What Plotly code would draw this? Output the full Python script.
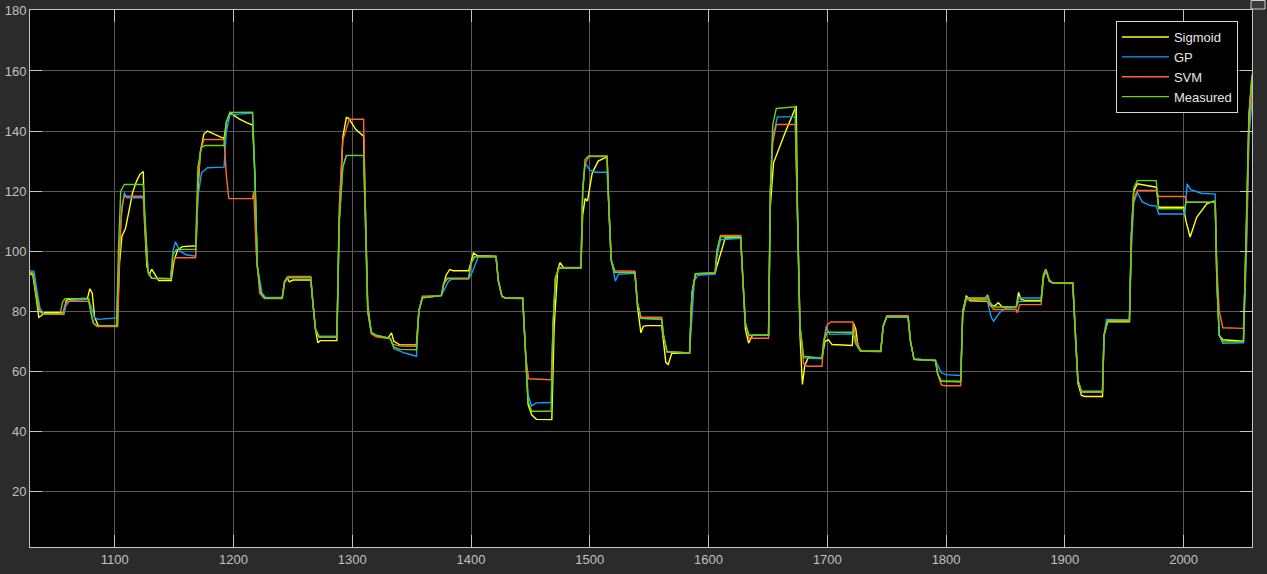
import plotly.graph_objects as go

# ---------------- data ----------------
measured_t = [1028.6, 1031, 1034, 1036, 1040, 1054, 1056, 1058, 1078, 1080, 1082, 1085, 1101.5, 1103, 1105, 1108,
              1124, 1126, 1128, 1131, 1147, 1149, 1152, 1168, 1170, 1173, 1176, 1192, 1194, 1197, 1216, 1218,
              1220, 1223, 1226, 1241, 1243, 1246, 1265, 1267, 1269, 1272, 1287, 1289, 1292, 1295, 1309.5, 1311,
              1313, 1316, 1320, 1332, 1335, 1340, 1354, 1356, 1359, 1375, 1377, 1380, 1398, 1400, 1403, 1421,
              1423, 1426, 1429, 1443.5, 1446, 1448, 1451, 1467.5, 1469, 1471, 1474, 1492.5, 1494, 1496, 1499,
              1514.5, 1516, 1518, 1521, 1538, 1540, 1543, 1560.5, 1562, 1565, 1584, 1586, 1589, 1605.5, 1607,
              1610, 1627, 1629, 1631, 1634, 1650.5, 1652, 1654, 1657, 1673, 1675, 1677, 1680, 1695.5, 1697, 1700,
              1721.5, 1724, 1728, 1745, 1747, 1750, 1768, 1770, 1773, 1791, 1793, 1796, 1812.3, 1814, 1817, 1833,
              1835, 1837, 1840, 1859, 1861, 1880, 1882, 1884, 1887, 1890, 1906.7, 1909, 1911, 1914, 1931.7, 1933,
              1936, 1954.4, 1956, 1958, 1961, 1977, 1979, 2001, 2002, 2026.6, 2028, 2030, 2033, 2050.4, 2053, 2055,
              2057.6]
measured_v = [93, 92.5, 85, 80, 79.2, 79.2, 83, 84.2, 84.2, 79, 76, 75.3, 75.2, 100, 120, 122.2,
              122.2, 105, 93, 91, 90.8, 99, 100.6, 100.6, 128, 134.5, 135.2, 135.2, 143, 146.2, 146.3, 125,
              95, 86, 84.4, 84.4, 89.5, 91.1, 91.1, 82, 74, 71.5, 71.4, 110, 128, 131.9, 131.9, 110,
              80, 73, 72, 71, 68, 67.3, 67.2, 80, 84.5, 85.2, 89.5, 91, 91.1, 96, 98.1, 98.1,
              90, 85, 84.4, 84.4, 65, 50, 46.7, 46.7, 75, 91, 94.4, 94.4, 120, 130.5, 131.7,
              131.7, 115, 97, 93, 92.8, 83, 77.6, 77.4, 72, 66.5, 66.1, 86, 92.5, 92.8, 100,
              104.8, 104.8, 90, 76, 72, 72, 120, 142, 147.5, 148.1, 110, 75, 65, 64.4, 70, 73,
              73, 69, 66.7, 66.7, 75, 78.1, 78.1, 70, 64, 63.6, 59, 56.7, 56.7, 79, 84.4, 84.4,
              85.5, 83, 81.4, 81.4, 83.3, 83.3, 92, 93.9, 90, 89.4, 89.4, 70, 57, 53.3, 53.3, 72,
              77, 77, 105, 121, 123.5, 123.5, 114.1, 114.1, 116.3, 116.3, 90, 72, 69.8, 69.8, 110, 145,
              158.9]

sigmoid_t = [1028.6, 1031, 1034, 1036, 1038, 1041, 1055, 1057, 1059, 1061, 1077, 1079, 1081, 1083, 1086, 1102,
             1104, 1106, 1109, 1112, 1115, 1118, 1121, 1124, 1125, 1127, 1129, 1131, 1134, 1137, 1147.5, 1150,
             1153, 1157, 1168.5, 1170, 1172, 1175, 1178, 1186, 1192, 1194, 1197, 1200, 1205, 1211, 1216, 1218,
             1220, 1223, 1226, 1241, 1243, 1245, 1247, 1250, 1265, 1267, 1269, 1271, 1273, 1287, 1289, 1292,
             1295, 1297, 1303, 1309.5, 1311, 1313, 1316, 1320, 1330, 1333, 1335, 1340, 1354, 1356, 1359, 1375,
             1377, 1379, 1382, 1385, 1398, 1400, 1402, 1405, 1421, 1423, 1426, 1429, 1443.5, 1446, 1448, 1451,
             1455, 1468, 1470, 1473, 1475, 1478, 1492.5, 1494, 1496, 1498, 1502, 1507, 1514.5, 1516, 1518, 1521,
             1538, 1540, 1543, 1545, 1548, 1560.5, 1562, 1564, 1566, 1569, 1584, 1586, 1589, 1605.5, 1607, 1614,
             1627, 1629, 1631, 1633.7, 1637, 1650.5, 1652, 1654.7, 1664, 1673.8, 1675, 1677, 1679, 1681, 1684,
             1695.5, 1698, 1701, 1704, 1721, 1722, 1724, 1726, 1729, 1745, 1747, 1750, 1768, 1770, 1773, 1791,
             1793, 1796, 1812.3, 1814, 1817, 1820, 1835, 1837, 1841, 1844, 1847, 1859, 1861, 1863, 1866, 1880,
             1882, 1884, 1887, 1890, 1906.7, 1909, 1911, 1914, 1917, 1931.7, 1933, 1936, 1954.4, 1956, 1958,
             1961, 1977, 1979, 2000, 2002, 2005.5, 2011, 2019.5, 2025, 2026.6, 2028, 2030, 2033, 2050.4, 2053,
             2055, 2057.6]
sigmoid_v = [92.5, 92, 84, 78, 78.5, 79.6, 79.6, 79, 83.5, 84, 84.3, 87.5, 86, 78, 75.3, 75.2,
             96, 105, 107.5, 113, 119.5, 123, 125.5, 126.5, 110, 95, 92, 94, 92, 90.2, 90.2, 97,
             100.5, 101.5, 101.8, 120, 133, 139, 140, 138.5, 137.5, 143, 146.2, 145.3, 144, 142.8, 142, 125,
             95, 86.5, 84.5, 84.6, 90, 91.2, 89.8, 90.4, 90.4, 82, 74, 69.5, 70.2, 70.2, 110, 138,
             144.5, 144.2, 140.5, 138.3, 115, 82, 73, 71.8, 71, 72.8, 70, 68.8, 68.8, 80, 84.5, 85.3,
             89, 92, 93.9, 93.5, 93.5, 97, 99.4, 98.5, 98.3, 90, 85, 84.3, 84.2, 65, 49, 45.5,
             44, 43.9, 75, 94, 96.2, 94.4, 94.4, 112, 117.5, 116.7, 126, 130, 131.4, 115, 97, 93,
             92.8, 82, 72.8, 75, 75.2, 75.2, 70, 63, 62.3, 66, 66.1, 86, 92.5, 92.6, 95, 104.4,
             104.6, 90, 74, 69.4, 72, 72, 115, 129.4, 139, 148.3, 110, 72, 55.6, 62, 64.5,
             64.4, 70, 70.5, 68.9, 68.6, 76, 74, 68, 66.7, 66.7, 75, 78.1, 78.1, 70, 64, 63.6,
             59, 56.7, 56.5, 80, 85.2, 83.5, 83.3, 82, 81.8, 82.8, 81.5, 81.3, 86.3, 84, 83.6, 83.6,
             92, 94, 90, 89.4, 89.4, 70, 56, 52, 51.6, 51.6, 72, 76.5, 76.5, 105, 120,
             122.4, 121.3, 114.6, 114.6, 110, 104.7, 111.3, 115.8, 116.6, 116.6, 90, 72, 70.5, 70, 110,
             145, 158]

gp_t = [1028.6, 1032, 1034, 1037, 1040, 1057, 1059, 1062, 1078, 1081, 1083, 1086, 1101.5, 1103, 1105, 1108,
        1110, 1124, 1126, 1128, 1131, 1147, 1149, 1151, 1155, 1160, 1168, 1170, 1173, 1178, 1192, 1194,
        1197, 1216, 1218, 1220, 1224, 1227, 1241, 1243, 1246, 1265, 1267, 1269, 1272, 1287, 1289, 1292,
        1295, 1309.5, 1311, 1313, 1316, 1320, 1332, 1335, 1345, 1354, 1356, 1359, 1375, 1377, 1381, 1384,
        1398, 1401, 1404, 1406, 1421, 1423, 1426, 1429, 1443.5, 1446, 1448, 1451, 1455, 1467.5, 1469, 1471,
        1474, 1492.5, 1494, 1496, 1500, 1505, 1514.5, 1516, 1518, 1521.5, 1524, 1538, 1540, 1543, 1560.5,
        1562, 1565, 1584, 1586, 1588, 1591, 1605.5, 1607, 1610, 1627, 1629, 1631, 1634, 1650.5, 1652, 1654,
        1658, 1673, 1675, 1677, 1680, 1695.5, 1697, 1699, 1702, 1721.5, 1724, 1728, 1745, 1747, 1750, 1768,
        1770, 1773, 1791, 1793, 1796, 1800, 1812.3, 1814, 1817, 1833, 1835, 1838, 1840, 1845, 1850, 1859,
        1861, 1880, 1882, 1884, 1887, 1890, 1906.7, 1909, 1911, 1914, 1931.7, 1933, 1935, 1954.4, 1956,
        1958, 1961, 1965, 1972, 1977, 1979, 2001, 2003, 2006, 2015, 2026.6, 2028, 2030, 2033, 2050.4,
        2053, 2055, 2057.6]
gp_v = [93.5, 93.3, 88, 81, 79.2, 79.2, 82, 83.5, 84, 80, 77.8, 77.3, 77.8, 90, 110, 119.5,
        117.8, 117.8, 105, 93, 91, 90.8, 100, 103.1, 100, 98.8, 98.3, 118, 126, 127.8, 128, 140,
        145.4, 146, 125, 95, 86, 84.6, 84.6, 90, 91.3, 91.3, 82, 74, 71.7, 71.7, 110, 128,
        131.8, 131.8, 110, 80, 73, 72, 71, 67.5, 66, 65, 80, 84.8, 85.2, 87, 90, 90.7,
        90.8, 93, 96, 98.1, 98.1, 90, 85, 84.4, 84.4, 65, 52, 48.5, 49.5, 49.6, 75, 91,
        94.4, 94.4, 120, 129.4, 127, 126.3, 126.3, 115, 97, 90, 92.3, 92.6, 83, 77.6, 77.2,
        72, 66.5, 66.1, 80, 90, 92, 92.4, 98, 103.8, 104.3, 90, 76, 72, 72, 120, 138,
        144.7, 144.7, 110, 75, 64.5, 64.2, 70, 75, 72.3, 72.5, 70, 66.7, 66.5, 75, 78, 78,
        70, 64, 63.6, 62, 59.5, 58.9, 58.6, 79, 84.4, 84.3, 83, 78, 76.7, 79.5, 81, 81.2,
        84.4, 84.4, 91, 93.5, 90, 89.4, 89.3, 70, 57, 53.5, 53.4, 72, 77.3, 77.1, 100,
        116, 119.6, 116.5, 115.2, 115, 112.4, 112.4, 122.4, 120.5, 119.3, 119, 90, 72, 69.3, 69.5,
        100, 138, 150]

svm_t = [1028.6, 1031, 1034, 1037, 1040, 1056, 1058, 1060, 1078, 1080, 1082, 1085, 1102.5, 1104, 1106, 1108,
         1124, 1126, 1128, 1131, 1147, 1149, 1151, 1168, 1170, 1172, 1175, 1192, 1194, 1196, 1216, 1217,
         1219, 1222, 1226, 1241, 1243, 1246, 1265, 1267, 1269, 1272, 1287, 1289, 1292, 1297.5, 1309.5, 1311,
         1313, 1316, 1320, 1332, 1334, 1340, 1354, 1356, 1359, 1375, 1377, 1380, 1398, 1400, 1403, 1421,
         1423, 1426, 1429, 1443.5, 1446, 1448.5, 1467.5, 1469, 1471, 1474, 1492.5, 1494, 1496, 1499, 1514.5,
         1516, 1518, 1521, 1538, 1540, 1543, 1560.5, 1562, 1565, 1584, 1586, 1589, 1605.5, 1607, 1610, 1627,
         1629, 1631, 1634, 1650.5, 1652, 1654, 1657, 1673, 1675, 1677, 1680, 1683, 1695.5, 1697, 1700, 1703,
         1721.5, 1724, 1728, 1745, 1747, 1750, 1768, 1770, 1773, 1791, 1793, 1796, 1799, 1812.3, 1814, 1817,
         1833, 1835, 1837, 1840, 1859, 1860, 1862, 1880, 1882, 1884, 1887, 1890, 1906.7, 1909, 1911, 1914,
         1931.7, 1933, 1936, 1954.4, 1956, 1958, 1961, 1977, 1979, 2001, 2003, 2026.6, 2028, 2030, 2033,
         2050.4, 2053, 2055, 2057.6]
svm_v = [93, 92.7, 86, 80, 79, 79, 82, 83.3, 83.3, 80, 76, 74.9, 74.9, 100, 115, 118.3,
         118.3, 105, 93, 91, 90.8, 96, 97.8, 97.8, 122, 133, 137.2, 137.2, 125, 117.5, 117.5, 120,
         100, 86, 84.2, 84.2, 90, 91.6, 91.6, 82, 74, 71.3, 71.3, 115, 137, 143.9, 143.9, 115,
         80, 72.5, 71.5, 70.8, 69, 68.4, 68.3, 80, 85, 85.2, 89, 90.8, 90.8, 96, 98.2, 98.2,
         90, 85, 84.4, 84.4, 65, 57.5, 57.2, 75, 91, 94.6, 94.6, 120, 129, 131.5, 131.5,
         115, 97, 93.5, 93.3, 83, 78, 78, 72, 66.5, 66.1, 86, 92.5, 92.8, 100, 105.2, 105.2,
         90, 76, 71, 71, 120, 136, 142.2, 142.2, 110, 75, 62.5, 61.7, 61.7, 70, 75.5, 76.4,
         76.4, 71, 66.7, 66.7, 75, 78.5, 78.5, 70, 64, 63.6, 59, 55.5, 55.2, 55.2, 79, 84,
         84, 84.5, 82, 80.6, 80.6, 79.5, 82.2, 82.2, 91, 94, 90.5, 89.4, 89.2, 70, 57, 53,
         53, 72, 76.8, 76.8, 105, 117, 120.2, 120.2, 118.2, 118.2, 116.3, 116.3, 95, 80, 74.5,
         74.3, 105, 140, 155]

x_ticks = [1100, 1200, 1300, 1400, 1500, 1600, 1700, 1800, 1900, 2000]
y_ticks = [20, 40, 60, 80, 100, 120, 140, 160, 180]

series = [
    ("Sigmoid", sigmoid_t, sigmoid_v, "#FFFF11"),
    ("GP", gp_t, gp_v, "#129FFF"),
    ("SVM", svm_t, svm_v, "#FF6929"),
    ("Measured", measured_t, measured_v, "#64D413"),
]

fig = go.Figure()
for name, t, v, c in series:
    fig.add_trace(go.Scatter(x=t, y=v, mode="lines", name=name,
                             line=dict(color=c, width=1.4)))

axis_common = dict(
    showgrid=True, gridcolor="#5a5a5a", gridwidth=1,
    showline=True, linecolor="#c4c4c4", linewidth=1, mirror="ticks",
    ticks="inside", ticklen=12, tickcolor="#c4c4c4", tickwidth=1,
    tickfont=dict(family="Liberation Sans, Arial, sans-serif", size=13, color="#c0c0c0"),
    zeroline=False, automargin=False,
)

fig.update_layout(
    width=1267, height=574,
    margin=dict(l=30, r=15, t=10, b=27, autoexpand=False),
    paper_bgcolor="#2b2b2b",
    plot_bgcolor="#000000",
    xaxis=dict(range=[1028.6, 2057.6], tickvals=x_ticks, **axis_common),
    yaxis=dict(range=[1.5, 180.3], tickvals=y_ticks, **axis_common),
    showlegend=True,
    legend=dict(
        x=0.9885, y=0.9795, xanchor="right", yanchor="top",
        bgcolor="#000000", bordercolor="#d8d8d8", borderwidth=1,
        font=dict(family="Liberation Sans, Arial, sans-serif", size=13, color="#e6e6e6"),
        itemwidth=47,
    ),
    shapes=[
        # small restore button at the top-right corner of the scope window
        dict(type="rect", xref="paper", yref="paper",
             x0=(1251 - 30) / 1222, x1=(1265 - 30) / 1222,
             y0=(547 - 9) / 537, y1=(547 - 0.5) / 537,
             line=dict(color="#d0d0d0", width=1), fillcolor="#3a3a3a", layer="above"),
    ],
)

fig.write_html("out.html",
               config={"displayModeBar": False},
               post_script="document.body.style.margin='0';document.body.style.background='#2b2b2b';")
